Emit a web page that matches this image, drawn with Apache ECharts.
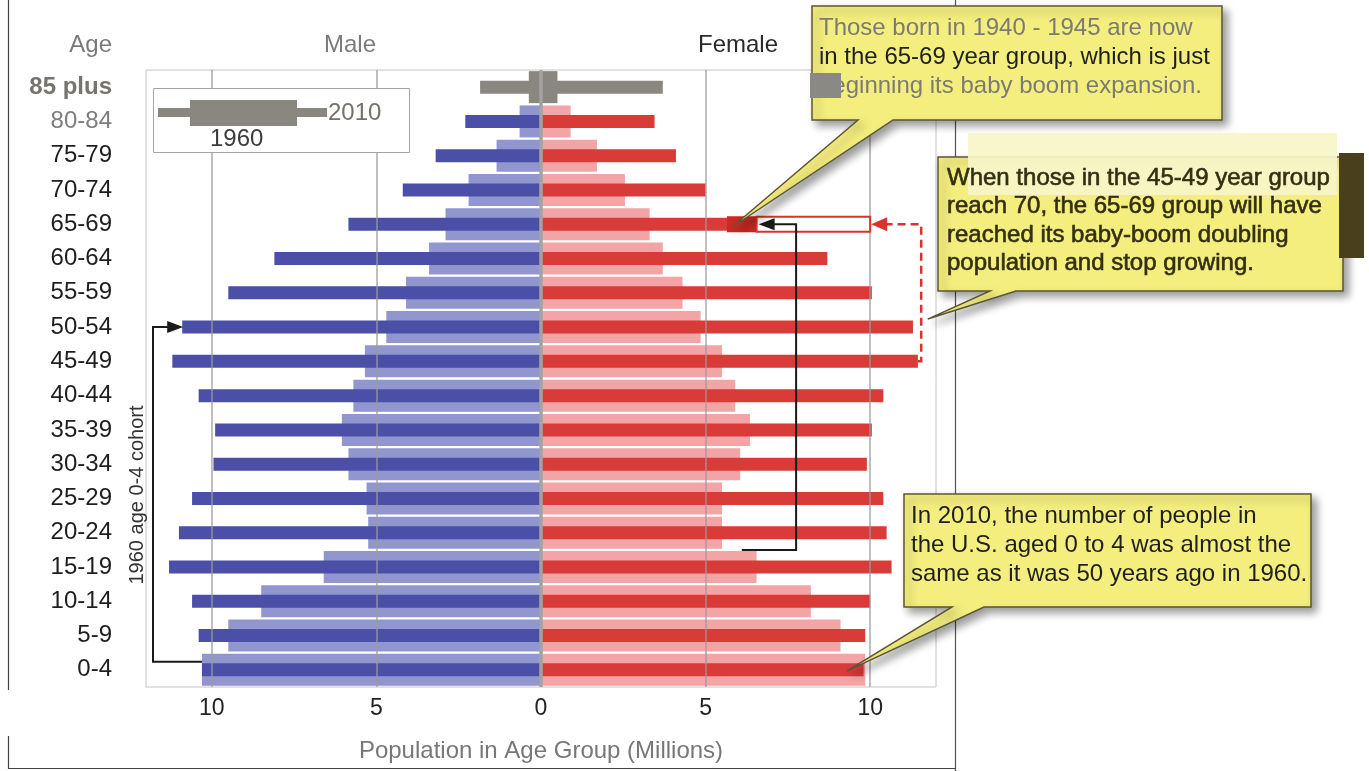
<!DOCTYPE html>
<html>
<head>
<meta charset="utf-8">
<script src="https://cdn.jsdelivr.net/npm/echarts@6/dist/echarts.min.js"></script>
<style>
html,body{margin:0;padding:0;background:#fff;}
#c{width:1369px;height:771px;}
</style>
</head>
<body>
<div id="c"></div>
<script>
// ---- data (millions) ----
const ages = ['0-4','5-9','10-14','15-19','20-24','25-29','30-34','35-39','40-44','45-49','50-54','55-59','60-64','65-69','70-74','75-79','80-84','85 plus'];
const male1960   = [10.3, 9.5, 8.5, 6.6, 5.25, 5.3, 5.85, 6.05, 5.7, 5.35, 4.7, 4.1, 3.4, 2.9, 2.2, 1.35, 0.65, 0.37];
const female1960 = [9.85, 9.1, 8.2, 6.55, 5.5, 5.5, 6.05, 6.35, 5.9, 5.5, 4.85, 4.3, 3.7, 3.3, 2.55, 1.7, 0.9, 0.5];
const male2010   = [10.3, 10.4, 10.6, 11.3, 11.0, 10.6, 9.95, 9.9, 10.4, 11.2, 10.9, 9.5, 8.1, 5.85, 4.2, 3.2, 2.3, 1.85];
const female2010 = [9.8, 9.85, 10.0, 10.65, 10.5, 10.4, 9.9, 10.05, 10.4, 11.45, 11.3, 10.05, 8.7, 6.55, 5.0, 4.1, 3.45, 3.7];
const xTicks = [-10, -5, 0, 5, 10];
const gridValues = [-10, -5, 5, 10];

const FONT = '"Liberation Sans", Arial, sans-serif';
const C = {m60:'#9196ce', m10:'#4b4fa7', f60:'#f3a4a7', f10:'#d93b39', grey:'#8a8781'};
const greyIdx = ages.indexOf('85 plus');
function build(vals, sign, color){
  return vals.map((v,i)=>({value: sign*v, itemStyle:{color: i===greyIdx ? C.grey : color}}));
}

const chart = echarts.init(document.getElementById('c'), null, {renderer:'canvas'});
const option = {
  animation:false,
  textStyle:{fontFamily:FONT},
  grid:{left:146, right:433, top:70, bottom:84, show:true, borderColor:'#c4c4c4', borderWidth:1, backgroundColor:'#fff'},
  xAxis:{
    type:'value', min:-12, max:12,
    axisLine:{show:false}, axisTick:{show:false}, splitLine:{show:false},
    axisLabel:{customValues:xTicks, formatter:v=>String(Math.abs(v)), fontSize:23, color:'#222', margin:10, fontFamily:FONT},
    name:'Population in Age Group (Millions)', nameLocation:'middle', nameGap:52,
    nameTextStyle:{fontSize:24, color:'#777', fontFamily:FONT}
  },
  yAxis:[
    {type:'category', data:ages, axisLine:{show:false}, axisTick:{show:false},
     axisLabel:{margin:34, fontSize:24, color:'#1e1e1e', fontFamily:FONT,
       formatter:v=> v==='85 plus' ? '{g|85 plus}' : (v==='80-84' ? '{h|80-84}' : v),
       rich:{g:{color:'#76746d', fontWeight:'bold', fontSize:24, fontFamily:FONT}, h:{color:'#7d7d7d', fontSize:24, fontFamily:FONT}}}},
    {type:'category', data:ages, show:false}
  ],
  series:[
    {name:'Male 1960', type:'bar', yAxisIndex:0, stack:'s60', barWidth:32, data:build(male1960,-1,C.m60)},
    {name:'Female 1960', type:'bar', yAxisIndex:0, stack:'s60', barWidth:32, data:build(female1960,1,C.f60)},
    {name:'Male 2010', type:'bar', yAxisIndex:1, stack:'s10', barWidth:13, data:build(male2010,-1,C.m10)},
    {name:'Female 2010', type:'bar', yAxisIndex:1, stack:'s10', barWidth:13, data:build(female2010,1,C.f10),
     markLine:{silent:true, symbol:['none','none'], label:{show:false}, z:5,
       data:[
         ...gridValues.map(v=>({xAxis:v, lineStyle:{color:'#9a9a9a', width:1.5, type:'solid', opacity:0.85}})),
         {xAxis:0, lineStyle:{color:'#a3a3a3', width:3.5, type:'solid', opacity:1}}
       ]}}
  ]
};
chart.setOption(option);

// ---- annotations ----
const P = (v, cat) => chart.convertToPixel({xAxisIndex:0, yAxisIndex:0}, [v, cat]);
const g = [];
function line(points, color, width, dash){
  g.push({type:'polyline', z:20, shape:{points}, style:{stroke:color, lineWidth:width, fill:null, lineDash:dash||null}});
}
function arrowHead(tip, dir, color, len, half){
  const [x,y] = tip; const s = dir==='right' ? -1 : 1;
  g.push({type:'polygon', z:21, shape:{points:[[x,y],[x+s*len,y-half],[x+s*len,y+half]]}, style:{fill:color}});
}
function text(x,y,t,opts){
  g.push(Object.assign({type:'text', z:40, x, y, style:Object.assign({text:t, font:'24px '+FONT, fill:'#222', textAlign:'left', textVerticalAlign:'middle'}, opts||{})}));
}
function callout(x1,y1,x2,y2,b1,b2,tip,fill){
  g.push({type:'polygon', z:30, shape:{points:[[x1,y1],[x2,y1],[x2,y2],[b2,y2],tip,[b1,y2],[x1,y2]]},
    style:{fill:fill, stroke:'#5b5633', lineWidth:1.5, shadowBlur:8, shadowOffsetX:5, shadowOffsetY:5, shadowColor:'rgba(0,0,0,0.4)'}});
}

// frame lines of the figure
line([[8.5,0],[8.5,690]], '#444', 1.2);
line([[8.5,736],[8.5,768.5],[955.5,768.5]], '#444', 1.2);
line([[955.5,0],[955.5,771]], '#555', 1.2);

// headers
g.push({type:'text', z:40, x:112, y:45, style:{text:'Age', font:'24px '+FONT, fill:'#7a7a7a', textAlign:'right', textVerticalAlign:'middle'}});
g.push({type:'text', z:40, x:350, y:45, style:{text:'Male', font:'24px '+FONT, fill:'#7b7b7b', textAlign:'center', textVerticalAlign:'middle'}});
g.push({type:'text', z:40, x:738, y:45, style:{text:'Female', font:'24px '+FONT, fill:'#2a2a2a', textAlign:'center', textVerticalAlign:'middle'}});

// legend box
g.push({type:'rect', z:25, shape:{x:153.5, y:88.5, width:256, height:64}, style:{fill:'#fff', stroke:'#a5a5a5', lineWidth:1}});
g.push({type:'rect', z:26, shape:{x:158, y:108, width:169, height:9}, style:{fill:C.grey}});
g.push({type:'rect', z:26, shape:{x:190, y:100, width:107, height:26}, style:{fill:C.grey}});
g.push({type:'text', z:27, x:328, y:113, style:{text:'2010', font:'24px '+FONT, fill:'#74716a', textAlign:'left', textVerticalAlign:'middle'}});
g.push({type:'text', z:27, x:210, y:139, style:{text:'1960', font:'24px '+FONT, fill:'#3d3d3d', textAlign:'left', textVerticalAlign:'middle'}});

// cohort label (rotated)
g.push({type:'text', z:40, x:137, y:495, rotation:Math.PI/2, style:{text:'1960 age 0-4 cohort', font:'20px '+FONT, fill:'#333', textAlign:'center', textVerticalAlign:'middle'}});

// cohort arrow (male side)
const a0 = P(-male2010[0], '0-4');
const a1 = P(-male2010[10], '50-54');
const plotLeft = P(-12, '0-4')[0];
line([[a0[0], a0[1]-8],[plotLeft+7, a0[1]-8],[plotLeft+7, a1[1]],[a1[0]-14, a1[1]]], '#1a1a1a', 2);
arrowHead([a1[0]+1, a1[1]], 'right', '#1a1a1a', 16, 6);

// female 65-69 highlight and future-growth outline
const r65 = P(female2010[13], '65-69');
const h0 = P(5.65, '65-69');
g.push({type:'rect', z:15, shape:{x:h0[0], y:r65[1]-8, width:r65[0]-h0[0], height:16}, style:{fill:'#c92a22'}});
const r10 = P(10.0, '65-69');
g.push({type:'rect', z:16, shape:{x:r65[0], y:r65[1]-7.5, width:r10[0]-r65[0], height:15}, style:{fill:null, stroke:'#d8332c', lineWidth:2}});

// black arrow from 15-19 cohort up to 65-69
const b20 = P(6.1, '20-24'), b15 = P(6.1, '15-19');
const bx = P(7.75, '65-69')[0];
const by = (b20[1]+b15[1])/2;
line([[b20[0], by],[bx, by],[bx, r65[1]],[r65[0]+16, r65[1]]], '#1a1a1a', 2);
arrowHead([r65[0]+2, r65[1]], 'left', '#1a1a1a', 16, 6);

// red dashed arrow from 45-49 up to 65-69
const d0 = P(female2010[9], '45-49');
const dx = P(11.55, '45-49')[0];
line([[d0[0], d0[1]],[dx, d0[1]],[dx, r65[1]],[r10[0]+16, r65[1]]], '#d8332c', 2.5, [8,5]);
arrowHead([r10[0]+1, r65[1]], 'left', '#d8332c', 16, 7);

// callout 1 (top)
const t1 = P(5.8, '65-69');
callout(812, 6, 1222, 120, 858, 893, [t1[0], t1[1]+3], '#f4ee7f');
text(819, 28, 'Those born in 1940 - 1945 are now', {fill:'#7c7b73'});
text(819, 57, 'in the 65-69 year group, which is just', {fill:'#1f1f1f'});
text(819, 86, 'beginning its baby boom expansion.', {fill:'#7c7b73'});
g.push({type:'rect', z:41, shape:{x:810, y:73, width:31, height:25}, style:{fill:'#8a8984'}});

// callout 2 (middle)
const t2 = P(11.75, '50-54');
callout(938, 157, 1343, 291, 990, 1016, [t2[0], t2[1]-8], '#f4ee7f');
g.push({type:'rect', z:35, shape:{x:968, y:133, width:369, height:62}, style:{fill:'rgba(248,245,200,0.93)'}});
g.push({type:'rect', z:35, shape:{x:1339, y:153, width:25, height:105}, style:{fill:'#4a3f1d'}});
const midOpts = {fill:'#332f12', stroke:'#332f12', lineWidth:0.6};
text(947, 178, 'When those in the 45-49 year group', midOpts);
text(947, 206, 'reach 70, the 65-69 group will have', midOpts);
text(947, 235, 'reached its baby-boom doubling', midOpts);
text(947, 263, 'population and stop growing.', midOpts);

// callout 3 (bottom)
const t3 = P(9.3, '0-4');
callout(904, 494, 1311, 607, 952, 984, [t3[0], t3[1]+1], '#f4ee7f');
text(911, 516, 'In 2010, the number of people in', {fill:'#1f1f1f'});
text(911, 545, 'the U.S. aged 0 to 4 was almost the', {fill:'#1f1f1f'});
text(911, 574, 'same as it was 50 years ago in 1960.', {fill:'#1f1f1f'});

chart.setOption({graphic:g});
</script>
</body>
</html>
